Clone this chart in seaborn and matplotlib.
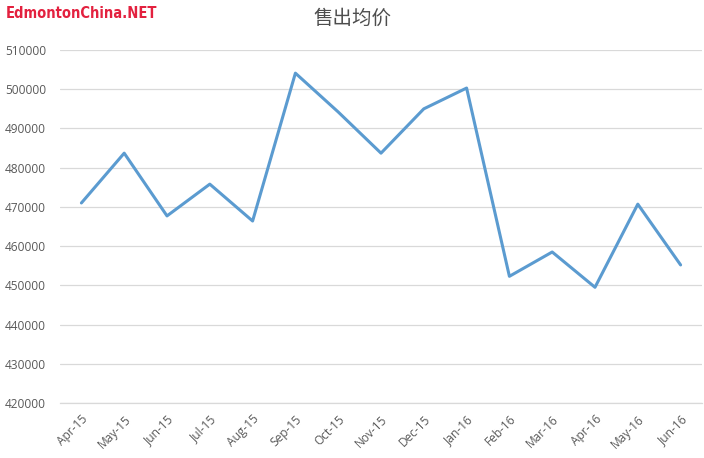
import numpy as np
import pandas as pd
import seaborn as sns
import matplotlib.pyplot as plt
from matplotlib.ticker import FixedLocator

# Data: average sale price by month
months = ['Apr-15', 'May-15', 'Jun-15', 'Jul-15', 'Aug-15', 'Sep-15', 'Oct-15',
          'Nov-15', 'Dec-15', 'Jan-16', 'Feb-16', 'Mar-16', 'Apr-16', 'May-16',
          'Jun-16']
prices = [471000, 483700, 467700, 475800, 466400, 504100, 494200,
          483700, 495000, 500300, 452300, 458500, 449500, 470700, 455200]
yticks = [420000, 430000, 440000, 450000, 460000, 470000, 480000,
          490000, 500000, 510000]

sns.set_style('white')
plt.rcParams['font.family'] = ['Open Sans', 'DejaVu Sans']

dtf = pd.DataFrame({'month': months, 'price': prices})
dtf['pos'] = np.arange(len(months))

fig = plt.figure(figsize=(7.04, 4.58), dpi=100)
ax = fig.add_axes([60 / 704, 55 / 458, 642 / 704, 353 / 458])

sns.lineplot(data=dtf, x='pos', y='price', ax=ax, color='#5B9BD0',
             linewidth=2.2, solid_capstyle='round')

ax.set_xlim(-0.5, len(months) - 0.5)
ax.set_ylim(420000, 510000)
ax.set_yticks(yticks)
ax.set_yticklabels([str(v) for v in yticks])
ax.yaxis.grid(True, color='#D9D9D9', linewidth=0.9)
ax.set_axisbelow(True)

ax.set_xticks(dtf['pos'])
ax.set_xticklabels(months, rotation=45, ha='right', rotation_mode='anchor')
ax.xaxis.set_minor_locator(FixedLocator(np.arange(-0.5, len(months), 1.0)))
ax.tick_params(axis='x', which='major', length=0, pad=7,
               labelsize=8.6, labelcolor='#595959')
ax.tick_params(axis='x', which='minor', length=4, color='#D9D9D9', width=0.9)
ax.tick_params(axis='y', length=0, pad=10, labelsize=8.6, labelcolor='#595959')

for s in ['top', 'right', 'left']:
    ax.spines[s].set_visible(False)
ax.spines['bottom'].set_color('#D9D9D9')
ax.spines['bottom'].set_linewidth(0.9)
ax.set_xlabel('')
ax.set_ylabel('')

fig.text(0.5, 1 - 18 / 458, '售出均价', ha='center', va='center',
         fontsize=14, fontweight='medium', color='#4D4D4D',
         family=['Noto Sans CJK SC', 'DejaVu Sans'])
fig.text(6 / 704, 1 - 14 / 458, 'EdmontonChina.NET', ha='left', va='center',
         fontsize=10.5, fontweight='bold', fontstretch='condensed',
         color='#E3213F', family=['DejaVu Sans'])

fig.savefig('out.png', dpi=100)
